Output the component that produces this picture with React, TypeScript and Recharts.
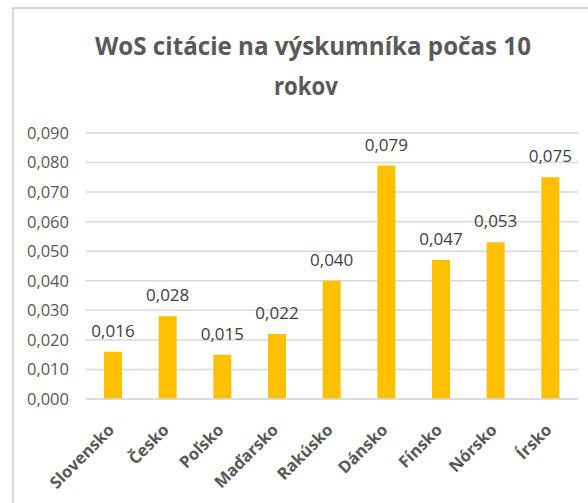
import React from "react";
import { BarChart, Bar, XAxis, YAxis, CartesianGrid, LabelList } from "recharts";

const countries = ["Slovensko", "Česko", "Poľsko", "Maďarsko", "Rakúsko", "Dánsko", "Fínsko", "Nórsko", "Írsko"];
const citations = [0.016, 0.028, 0.015, 0.022, 0.04, 0.079, 0.047, 0.053, 0.075];
const yTicks = [0, 0.01, 0.02, 0.03, 0.04, 0.05, 0.06, 0.07, 0.08, 0.09];

const data = countries.map((name, i) => ({ name, value: citations[i] }));

const fmt = (v: number) => v.toFixed(3).replace(".", ",");

const FONT = "'Open Sans', 'Liberation Sans', sans-serif";

function CountryTick(props: any) {
  const { x, y, payload } = props;
  // label rotated 45 degrees, anchored at its end under the bar
  return (
    <g transform={`translate(${x + 2},${y + 24}) rotate(-45)`}>
      <text x={0} y={0} textAnchor="end" fill="#595959" fontSize={16.5} fontWeight="bold" fontFamily={FONT}>
        {payload.value}
      </text>
    </g>
  );
}

export default function App() {
  return (
    <div style={{ position: "absolute", left: 0, top: 0, width: 588, height: 503, background: "#fff", overflow: "hidden" }}>
      {/* chart frame */}
      <div
        style={{
          position: "absolute",
          left: 12,
          top: 7,
          width: 600,
          height: 520,
          borderLeft: "2px solid #d9d9d9",
          borderTop: "2px solid #d9d9d9",
        }}
      />
      <svg width={588} height={110} style={{ position: "absolute", left: 0, top: 0 }}>
        <text x={95} y={55} fill="#595959" fontSize={25} fontWeight="bold" fontFamily={FONT} textLength={436} lengthAdjust="spacingAndGlyphs">
          WoS citácie na výskumníka počas 10
        </text>
        <text x={274} y={95} fill="#595959" fontSize={25} fontWeight="bold" fontFamily={FONT} textLength={64} lengthAdjust="spacingAndGlyphs">
          rokov
        </text>
      </svg>
      <div style={{ position: "absolute", left: 0, top: 0 }}>
        <BarChart width={588} height={503} data={data} margin={{ top: 133, right: 10, left: 0, bottom: 24 }}>
          <CartesianGrid vertical={false} stroke="#d9d9d9" strokeWidth={1.5} />
          <XAxis
            dataKey="name"
            height={80}
            interval={0}
            tickLine={false}
            axisLine={{ stroke: "#d9d9d9", strokeWidth: 1.5 }}
            tick={<CountryTick />}
          />
          <YAxis
            width={86}
            domain={[0, 0.09]}
            ticks={yTicks}
            tickFormatter={fmt}
            axisLine={false}
            tickLine={false}
            tickMargin={11}
            tick={{ fill: "#595959", fontSize: 16.5, fontFamily: FONT }}
          />
          <Bar dataKey="value" fill="#FFC000" barSize={18} isAnimationActive={false}>
            <LabelList
              dataKey="value"
              position="top"
              offset={15}
              formatter={(v: any) => fmt(Number(v))}
              fill="#404040"
              fontSize={17}
              fontFamily={FONT}
            />
          </Bar>
        </BarChart>
      </div>
    </div>
  );
}
